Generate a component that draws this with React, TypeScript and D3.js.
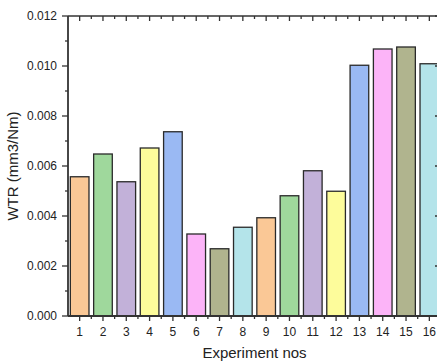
import React, { useEffect, useRef } from "react";
import * as d3 from "d3";

// experiment numbers and measured wear-to-torque rate values
const experiments = ["1", "2", "3", "4", "5", "6", "7", "8", "9", "10", "11", "12", "13", "14", "15", "16"];
const wtr = [
  0.00557, 0.00648, 0.00537, 0.00672, 0.00737, 0.00328, 0.00269, 0.00355,
  0.00393, 0.00481, 0.00581, 0.00499, 0.01003, 0.01068, 0.01076, 0.01009,
];
const palette = ["#fac896", "#9fd89c", "#c2b1d9", "#fdfc9b", "#9ab9f3", "#fcb4f8", "#b0b48e", "#b4e4ea"];
const majorTicks = [0, 0.002, 0.004, 0.006, 0.008, 0.01, 0.012];
const minorTicks = [0.001, 0.003, 0.005, 0.007, 0.009, 0.011];

function App() {
  const ref = useRef<SVGSVGElement>(null);

  useEffect(() => {
    const svg = d3.select(ref.current);
    svg.selectAll("*").remove();

    const width = 437;
    const height = 361;
    const margin = { left: 68, right: -4, top: 16, bottom: 45 };
    const axisColor = "#333";
    const font = "Arial, 'Liberation Sans', sans-serif";

    const x = d3.scaleBand()
      .domain(experiments)
      .range([margin.left, width - margin.right])
      .paddingInner(0.2)
      .paddingOuter(0.1);

    const y = d3.scaleLinear()
      .domain([0, 0.012])
      .range([height - margin.bottom, margin.top]);

    const x0 = margin.left;
    const x1 = width - margin.right;
    const y0 = height - margin.bottom;
    const y1 = margin.top;
    const step = x.step();
    const centers = experiments.map(d => x(d)! + x.bandwidth() / 2);
    const bounds = d3.range(experiments.length + 1).map(i => x0 + i * step);

    // bars
    svg.selectAll("rect.bar")
      .data(wtr)
      .join("rect")
      .attr("class", "bar")
      .attr("x", (d, i) => x(experiments[i])!)
      .attr("y", d => y(d))
      .attr("width", x.bandwidth())
      .attr("height", d => y(0) - y(d))
      .attr("fill", (d, i) => palette[i % palette.length])
      .attr("stroke", "#2a2a2a")
      .attr("stroke-width", 1.3);

    const g = svg.append("g")
      .attr("stroke", axisColor)
      .attr("stroke-width", 1.3)
      .attr("fill", "none");

    // frame
    g.append("line").attr("x1", x0).attr("x2", x0).attr("y1", y0).attr("y2", y1).attr("stroke-width", 1.8);
    g.append("line").attr("x1", x0).attr("x2", x1).attr("y1", y0).attr("y2", y0).attr("stroke-width", 1.8);
    g.append("line").attr("x1", x0).attr("x2", x1).attr("y1", y1).attr("y2", y1).attr("stroke-width", 1.5);
    g.append("line").attr("x1", x1).attr("x2", x1).attr("y1", y0).attr("y2", y1);

    // left ticks (outward)
    g.selectAll("line.ly")
      .data(majorTicks)
      .join("line")
      .attr("x1", x0 - 6).attr("x2", x0)
      .attr("y1", d => y(d)).attr("y2", d => y(d));
    g.selectAll("line.lym")
      .data(minorTicks)
      .join("line")
      .attr("class", "lym")
      .attr("x1", x0 - 3).attr("x2", x0)
      .attr("y1", d => y(d)).attr("y2", d => y(d));

    // right ticks (inward)
    g.selectAll("line.ry")
      .data(majorTicks)
      .join("line")
      .attr("class", "ry")
      .attr("x1", x1 - 6).attr("x2", x1)
      .attr("y1", d => y(d)).attr("y2", d => y(d));

    // bottom ticks (outward)
    g.selectAll("line.bx")
      .data(centers)
      .join("line")
      .attr("class", "bx")
      .attr("x1", d => d).attr("x2", d => d)
      .attr("y1", y0).attr("y2", y0 + 5);
    g.selectAll("line.bxm")
      .data(bounds.slice(1))
      .join("line")
      .attr("class", "bxm")
      .attr("x1", d => d).attr("x2", d => d)
      .attr("y1", y0).attr("y2", y0 + 3);

    // top ticks (inward)
    g.selectAll("line.tx")
      .data(centers)
      .join("line")
      .attr("class", "tx")
      .attr("x1", d => d).attr("x2", d => d)
      .attr("y1", y1).attr("y2", y1 + 5);
    g.selectAll("line.txm")
      .data(bounds.slice(1))
      .join("line")
      .attr("class", "txm")
      .attr("x1", d => d).attr("x2", d => d)
      .attr("y1", y1).attr("y2", y1 + 3);

    // tick labels
    svg.selectAll("text.ylab")
      .data(majorTicks)
      .join("text")
      .attr("class", "ylab")
      .attr("x", x0 - 11)
      .attr("y", d => y(d))
      .attr("dy", "0.35em")
      .attr("text-anchor", "end")
      .style("font-family", font)
      .style("font-size", "12px")
      .attr("fill", "#222")
      .text(d => d3.format(".3f")(d));

    svg.selectAll("text.xlab")
      .data(experiments)
      .join("text")
      .attr("class", "xlab")
      .attr("x", d => x(d)! + x.bandwidth() / 2)
      .attr("y", y0 + 20)
      .attr("text-anchor", "middle")
      .style("font-family", font)
      .style("font-size", "12px")
      .attr("fill", "#222")
      .text(d => d);

    // axis titles
    svg.append("text")
      .attr("x", (x0 + x1) / 2)
      .attr("y", height - 3)
      .attr("text-anchor", "middle")
      .style("font-family", font)
      .style("font-size", "15px")
      .attr("fill", "#222")
      .text("Experiment nos");

    svg.append("text")
      .attr("transform", `translate(18, ${(y0 + y1) / 2}) rotate(-90)`)
      .attr("text-anchor", "middle")
      .style("font-family", font)
      .style("font-size", "15px")
      .attr("fill", "#222")
      .text("WTR (mm3/Nm)");
  }, []);

  return (
    <svg
      ref={ref}
      width={437}
      height={361}
      style={{ position: "absolute", left: 0, top: 0, background: "#fff" }}
    />
  );
}

export default App;
